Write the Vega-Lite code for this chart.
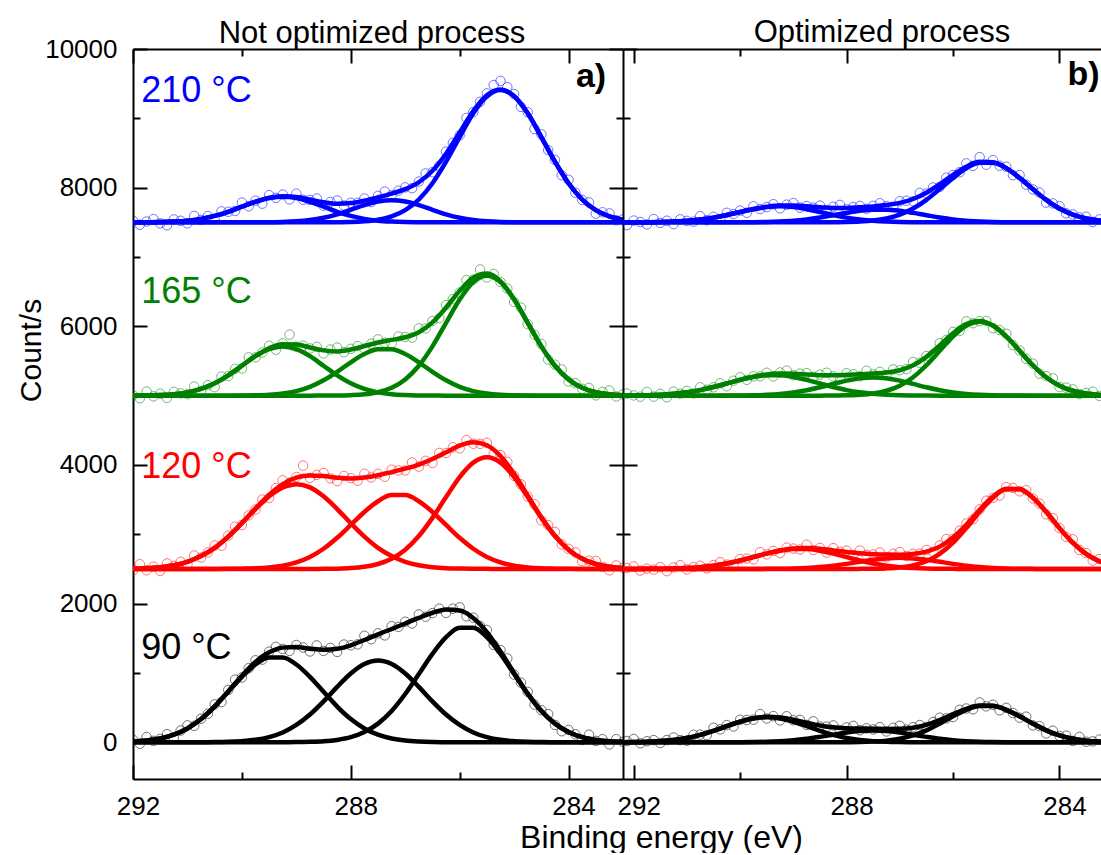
{
"$schema": "https://vega.github.io/schema/vega-lite/v6.json",
"padding": {"left": 16, "top": 17, "right": 0, "bottom": 0},
"autosize": {"type": "pad"},
"config": {
  "font": "Liberation Sans",
  "view": {"stroke": null},
  "axis": {"grid": false, "domainColor": "#000", "tickColor": "#000", "labelColor": "#000", "titleColor": "#000", "domainWidth": 2, "tickWidth": 2, "labelFontSize": 26, "titleFontWeight": "normal", "labelFlush": false, "labelOverlap": false, "labelFont": "Liberation Sans", "titleFont": "Liberation Sans"}
},
"datasets": {
"lines": [
{"s":"L210","x":292,"a":7500,"b":7500,"c":7500,"e":7500},
{"s":"L210","x":291.75,"a":7501,"b":7500,"c":7500,"e":7501},
{"s":"L210","x":291.5,"a":7504,"b":7500,"c":7500,"e":7504},
{"s":"L210","x":291.25,"a":7511,"b":7500,"c":7500,"e":7511},
{"s":"L210","x":291,"a":7524,"b":7500,"c":7500,"e":7524},
{"s":"L210","x":290.75,"a":7550,"b":7500,"c":7500,"e":7550},
{"s":"L210","x":290.5,"a":7592,"b":7500,"c":7500,"e":7592},
{"s":"L210","x":290.25,"a":7652,"b":7500,"c":7500,"e":7652},
{"s":"L210","x":290,"a":7725,"b":7500,"c":7500,"e":7725},
{"s":"L210","x":289.75,"a":7796,"b":7501,"c":7500,"e":7797},
{"s":"L210","x":289.5,"a":7850,"b":7502,"c":7500,"e":7852},
{"s":"L210","x":289.25,"a":7870,"b":7505,"c":7500,"e":7875},
{"s":"L210","x":289,"a":7850,"b":7514,"c":7500,"e":7864},
{"s":"L210","x":288.75,"a":7796,"b":7532,"c":7500,"e":7828},
{"s":"L210","x":288.5,"a":7725,"b":7565,"c":7500,"e":7790},
{"s":"L210","x":288.25,"a":7652,"b":7615,"c":7502,"e":7769},
{"s":"L210","x":288,"a":7592,"b":7680,"c":7505,"e":7777},
{"s":"L210","x":287.75,"a":7550,"b":7748,"c":7515,"e":7813},
{"s":"L210","x":287.5,"a":7524,"b":7800,"c":7537,"e":7861},
{"s":"L210","x":287.25,"a":7511,"b":7820,"c":7584,"e":7915},
{"s":"L210","x":287,"a":7504,"b":7800,"c":7675,"e":7979},
{"s":"L210","x":286.75,"a":7501,"b":7748,"c":7829,"e":8078},
{"s":"L210","x":286.5,"a":7500,"b":7680,"c":8063,"e":8243},
{"s":"L210","x":286.25,"a":7500,"b":7615,"c":8375,"e":8490},
{"s":"L210","x":286,"a":7500,"b":7565,"c":8730,"e":8795},
{"s":"L210","x":285.75,"a":7500,"b":7532,"c":9072,"e":9104},
{"s":"L210","x":285.5,"a":7500,"b":7514,"c":9318,"e":9332},
{"s":"L210","x":285.25,"a":7500,"b":7505,"c":9410,"e":9415},
{"s":"L210","x":285,"a":7500,"b":7502,"c":9318,"e":9320},
{"s":"L210","x":284.75,"a":7500,"b":7501,"c":9072,"e":9073},
{"s":"L210","x":284.5,"a":7500,"b":7500,"c":8730,"e":8730},
{"s":"L210","x":284.25,"a":7500,"b":7500,"c":8375,"e":8375},
{"s":"L210","x":284,"a":7500,"b":7500,"c":8063,"e":8063},
{"s":"L210","x":283.75,"a":7500,"b":7500,"c":7829,"e":7829},
{"s":"L210","x":283.5,"a":7500,"b":7500,"c":7675,"e":7675},
{"s":"L210","x":283.25,"a":7500,"b":7500,"c":7584,"e":7584},
{"s":"L210","x":283,"a":7500,"b":7500,"c":7537,"e":7537},
{"s":"L165","x":292,"a":5001,"b":5000,"c":5000,"e":5001},
{"s":"L165","x":291.75,"a":5003,"b":5000,"c":5000,"e":5003},
{"s":"L165","x":291.5,"a":5008,"b":5000,"c":5000,"e":5008},
{"s":"L165","x":291.25,"a":5020,"b":5000,"c":5000,"e":5020},
{"s":"L165","x":291,"a":5047,"b":5000,"c":5000,"e":5047},
{"s":"L165","x":290.75,"a":5096,"b":5000,"c":5000,"e":5096},
{"s":"L165","x":290.5,"a":5177,"b":5000,"c":5000,"e":5177},
{"s":"L165","x":290.25,"a":5292,"b":5000,"c":5000,"e":5292},
{"s":"L165","x":290,"a":5431,"b":5001,"c":5000,"e":5432},
{"s":"L165","x":289.75,"a":5569,"b":5004,"c":5000,"e":5573},
{"s":"L165","x":289.5,"a":5672,"b":5012,"c":5000,"e":5684},
{"s":"L165","x":289.25,"a":5710,"b":5030,"c":5000,"e":5740},
{"s":"L165","x":289,"a":5672,"b":5065,"c":5000,"e":5737},
{"s":"L165","x":288.75,"a":5569,"b":5126,"c":5000,"e":5695},
{"s":"L165","x":288.5,"a":5431,"b":5221,"c":5001,"e":5653},
{"s":"L165","x":288.25,"a":5292,"b":5344,"c":5002,"e":5638},
{"s":"L165","x":288,"a":5177,"b":5481,"c":5007,"e":5665},
{"s":"L165","x":287.75,"a":5096,"b":5600,"c":5019,"e":5715},
{"s":"L165","x":287.5,"a":5047,"b":5670,"c":5049,"e":5766},
{"s":"L165","x":287.25,"a":5020,"b":5670,"c":5114,"e":5804},
{"s":"L165","x":287,"a":5008,"b":5600,"c":5234,"e":5842},
{"s":"L165","x":286.75,"a":5003,"b":5481,"c":5431,"e":5915},
{"s":"L165","x":286.5,"a":5001,"b":5344,"c":5711,"e":6056},
{"s":"L165","x":286.25,"a":5000,"b":5221,"c":6050,"e":6271},
{"s":"L165","x":286,"a":5000,"b":5126,"c":6386,"e":6512},
{"s":"L165","x":285.75,"a":5000,"b":5065,"c":6637,"e":6702},
{"s":"L165","x":285.5,"a":5000,"b":5030,"c":6730,"e":6760},
{"s":"L165","x":285.25,"a":5000,"b":5012,"c":6637,"e":6649},
{"s":"L165","x":285,"a":5000,"b":5004,"c":6386,"e":6390},
{"s":"L165","x":284.75,"a":5000,"b":5001,"c":6050,"e":6051},
{"s":"L165","x":284.5,"a":5000,"b":5000,"c":5711,"e":5711},
{"s":"L165","x":284.25,"a":5000,"b":5000,"c":5431,"e":5431},
{"s":"L165","x":284,"a":5000,"b":5000,"c":5234,"e":5234},
{"s":"L165","x":283.75,"a":5000,"b":5000,"c":5114,"e":5114},
{"s":"L165","x":283.5,"a":5000,"b":5000,"c":5049,"e":5049},
{"s":"L165","x":283.25,"a":5000,"b":5000,"c":5019,"e":5019},
{"s":"L165","x":283,"a":5000,"b":5000,"c":5007,"e":5007},
{"s":"L120","x":292,"a":2505,"b":2500,"c":2500,"e":2505},
{"s":"L120","x":291.75,"a":2511,"b":2500,"c":2500,"e":2511},
{"s":"L120","x":291.5,"a":2526,"b":2500,"c":2500,"e":2526},
{"s":"L120","x":291.25,"a":2554,"b":2500,"c":2500,"e":2554},
{"s":"L120","x":291,"a":2603,"b":2500,"c":2500,"e":2603},
{"s":"L120","x":290.75,"a":2685,"b":2500,"c":2500,"e":2685},
{"s":"L120","x":290.5,"a":2804,"b":2500,"c":2500,"e":2804},
{"s":"L120","x":290.25,"a":2966,"b":2501,"c":2500,"e":2967},
{"s":"L120","x":290,"a":3159,"b":2504,"c":2500,"e":3163},
{"s":"L120","x":289.75,"a":3364,"b":2509,"c":2500,"e":3373},
{"s":"L120","x":289.5,"a":3547,"b":2522,"c":2500,"e":3569},
{"s":"L120","x":289.25,"a":3676,"b":2547,"c":2500,"e":3723},
{"s":"L120","x":289,"a":3722,"b":2595,"c":2500,"e":3817},
{"s":"L120","x":288.75,"a":3676,"b":2673,"c":2500,"e":3849},
{"s":"L120","x":288.5,"a":3547,"b":2791,"c":2501,"e":3839},
{"s":"L120","x":288.25,"a":3364,"b":2949,"c":2504,"e":3817},
{"s":"L120","x":288,"a":3159,"b":3134,"c":2512,"e":3805},
{"s":"L120","x":287.75,"a":2966,"b":3322,"c":2531,"e":3819},
{"s":"L120","x":287.5,"a":2804,"b":3477,"c":2571,"e":3852},
{"s":"L120","x":287.25,"a":2685,"b":3565,"c":2647,"e":3897},
{"s":"L120","x":287,"a":2603,"b":3565,"c":2778,"e":3946},
{"s":"L120","x":286.75,"a":2554,"b":3477,"c":2975,"e":4006},
{"s":"L120","x":286.5,"a":2526,"b":3322,"c":3237,"e":4085},
{"s":"L120","x":286.25,"a":2511,"b":3134,"c":3537,"e":4182},
{"s":"L120","x":286,"a":2505,"b":2949,"c":3825,"e":4279},
{"s":"L120","x":285.75,"a":2502,"b":2791,"c":4033,"e":4326},
{"s":"L120","x":285.5,"a":2501,"b":2673,"c":4110,"e":4284},
{"s":"L120","x":285.25,"a":2500,"b":2595,"c":4033,"e":4128},
{"s":"L120","x":285,"a":2500,"b":2547,"c":3825,"e":3872},
{"s":"L120","x":284.75,"a":2500,"b":2522,"c":3537,"e":3559},
{"s":"L120","x":284.5,"a":2500,"b":2509,"c":3237,"e":3246},
{"s":"L120","x":284.25,"a":2500,"b":2504,"c":2975,"e":2979},
{"s":"L120","x":284,"a":2500,"b":2501,"c":2778,"e":2779},
{"s":"L120","x":283.75,"a":2500,"b":2500,"c":2647,"e":2647},
{"s":"L120","x":283.5,"a":2500,"b":2500,"c":2571,"e":2571},
{"s":"L120","x":283.25,"a":2500,"b":2500,"c":2531,"e":2531},
{"s":"L120","x":283,"a":2500,"b":2500,"c":2512,"e":2512},
{"s":"L90","x":292,"a":11,"b":0,"c":0,"e":11},
{"s":"L90","x":291.75,"a":25,"b":0,"c":0,"e":25},
{"s":"L90","x":291.5,"a":54,"b":0,"c":0,"e":54},
{"s":"L90","x":291.25,"a":109,"b":0,"c":0,"e":109},
{"s":"L90","x":291,"a":199,"b":0,"c":0,"e":199},
{"s":"L90","x":290.75,"a":334,"b":1,"c":0,"e":335},
{"s":"L90","x":290.5,"a":515,"b":2,"c":0,"e":517},
{"s":"L90","x":290.25,"a":729,"b":6,"c":0,"e":735},
{"s":"L90","x":290,"a":944,"b":16,"c":0,"e":960},
{"s":"L90","x":289.75,"a":1122,"b":35,"c":0,"e":1157},
{"s":"L90","x":289.5,"a":1223,"b":74,"c":0,"e":1297},
{"s":"L90","x":289.25,"a":1223,"b":141,"c":1,"e":1365},
{"s":"L90","x":289,"a":1122,"b":249,"c":2,"e":1373},
{"s":"L90","x":288.75,"a":944,"b":400,"c":6,"e":1350},
{"s":"L90","x":288.5,"a":729,"b":590,"c":14,"e":1333},
{"s":"L90","x":288.25,"a":515,"b":799,"c":34,"e":1348},
{"s":"L90","x":288,"a":334,"b":992,"c":73,"e":1399},
{"s":"L90","x":287.75,"a":199,"b":1129,"c":147,"e":1475},
{"s":"L90","x":287.5,"a":109,"b":1179,"c":269,"e":1557},
{"s":"L90","x":287.25,"a":54,"b":1129,"c":451,"e":1634},
{"s":"L90","x":287,"a":25,"b":992,"c":696,"e":1713},
{"s":"L90","x":286.75,"a":11,"b":799,"c":984,"e":1794},
{"s":"L90","x":286.5,"a":4,"b":590,"c":1274,"e":1868},
{"s":"L90","x":286.25,"a":1,"b":400,"c":1515,"e":1916},
{"s":"L90","x":286,"a":0,"b":249,"c":1652,"e":1901},
{"s":"L90","x":285.75,"a":0,"b":141,"c":1652,"e":1793},
{"s":"L90","x":285.5,"a":0,"b":74,"c":1515,"e":1589},
{"s":"L90","x":285.25,"a":0,"b":35,"c":1274,"e":1309},
{"s":"L90","x":285,"a":0,"b":16,"c":984,"e":1000},
{"s":"L90","x":284.75,"a":0,"b":6,"c":696,"e":702},
{"s":"L90","x":284.5,"a":0,"b":2,"c":451,"e":453},
{"s":"L90","x":284.25,"a":0,"b":1,"c":269,"e":270},
{"s":"L90","x":284,"a":0,"b":0,"c":147,"e":147},
{"s":"L90","x":283.75,"a":0,"b":0,"c":73,"e":73},
{"s":"L90","x":283.5,"a":0,"b":0,"c":34,"e":34},
{"s":"L90","x":283.25,"a":0,"b":0,"c":14,"e":14},
{"s":"L90","x":283,"a":0,"b":0,"c":6,"e":6},
{"s":"R210","x":292.25,"a":7500,"b":7500,"c":7500,"e":7500},
{"s":"R210","x":292,"a":7501,"b":7500,"c":7500,"e":7501},
{"s":"R210","x":291.75,"a":7502,"b":7500,"c":7500,"e":7502},
{"s":"R210","x":291.5,"a":7504,"b":7500,"c":7500,"e":7504},
{"s":"R210","x":291.25,"a":7510,"b":7500,"c":7500,"e":7510},
{"s":"R210","x":291,"a":7521,"b":7500,"c":7500,"e":7521},
{"s":"R210","x":290.75,"a":7540,"b":7500,"c":7500,"e":7540},
{"s":"R210","x":290.5,"a":7568,"b":7500,"c":7500,"e":7568},
{"s":"R210","x":290.25,"a":7605,"b":7500,"c":7500,"e":7605},
{"s":"R210","x":290,"a":7648,"b":7501,"c":7500,"e":7649},
{"s":"R210","x":289.75,"a":7689,"b":7502,"c":7500,"e":7691},
{"s":"R210","x":289.5,"a":7719,"b":7505,"c":7500,"e":7724},
{"s":"R210","x":289.25,"a":7730,"b":7512,"c":7500,"e":7742},
{"s":"R210","x":289,"a":7719,"b":7523,"c":7500,"e":7742},
{"s":"R210","x":288.75,"a":7689,"b":7542,"c":7500,"e":7731},
{"s":"R210","x":288.5,"a":7648,"b":7569,"c":7500,"e":7717},
{"s":"R210","x":288.25,"a":7605,"b":7602,"c":7501,"e":7708},
{"s":"R210","x":288,"a":7568,"b":7636,"c":7504,"e":7708},
{"s":"R210","x":287.75,"a":7540,"b":7666,"c":7511,"e":7717},
{"s":"R210","x":287.5,"a":7521,"b":7683,"c":7526,"e":7730},
{"s":"R210","x":287.25,"a":7510,"b":7683,"c":7556,"e":7749},
{"s":"R210","x":287,"a":7504,"b":7666,"c":7610,"e":7780},
{"s":"R210","x":286.75,"a":7502,"b":7636,"c":7698,"e":7836},
{"s":"R210","x":286.5,"a":7501,"b":7602,"c":7824,"e":7927},
{"s":"R210","x":286.25,"a":7500,"b":7569,"c":7979,"e":8048},
{"s":"R210","x":286,"a":7500,"b":7542,"c":8141,"e":8183},
{"s":"R210","x":285.75,"a":7500,"b":7523,"c":8280,"e":8303},
{"s":"R210","x":285.5,"a":7500,"b":7512,"c":8360,"e":8372},
{"s":"R210","x":285.25,"a":7500,"b":7505,"c":8360,"e":8365},
{"s":"R210","x":285,"a":7500,"b":7502,"c":8280,"e":8282},
{"s":"R210","x":284.75,"a":7500,"b":7501,"c":8141,"e":8142},
{"s":"R210","x":284.5,"a":7500,"b":7500,"c":7979,"e":7979},
{"s":"R210","x":284.25,"a":7500,"b":7500,"c":7824,"e":7824},
{"s":"R210","x":284,"a":7500,"b":7500,"c":7698,"e":7698},
{"s":"R210","x":283.75,"a":7500,"b":7500,"c":7610,"e":7610},
{"s":"R210","x":283.5,"a":7500,"b":7500,"c":7556,"e":7556},
{"s":"R210","x":283.25,"a":7500,"b":7500,"c":7526,"e":7526},
{"s":"R210","x":283,"a":7500,"b":7500,"c":7511,"e":7511},
{"s":"R165","x":292.25,"a":5001,"b":5000,"c":5000,"e":5001},
{"s":"R165","x":292,"a":5003,"b":5000,"c":5000,"e":5003},
{"s":"R165","x":291.75,"a":5006,"b":5000,"c":5000,"e":5006},
{"s":"R165","x":291.5,"a":5013,"b":5000,"c":5000,"e":5013},
{"s":"R165","x":291.25,"a":5026,"b":5000,"c":5000,"e":5026},
{"s":"R165","x":291,"a":5048,"b":5000,"c":5000,"e":5048},
{"s":"R165","x":290.75,"a":5080,"b":5000,"c":5000,"e":5080},
{"s":"R165","x":290.5,"a":5124,"b":5000,"c":5000,"e":5124},
{"s":"R165","x":290.25,"a":5175,"b":5001,"c":5000,"e":5176},
{"s":"R165","x":290,"a":5227,"b":5002,"c":5000,"e":5229},
{"s":"R165","x":289.75,"a":5269,"b":5005,"c":5000,"e":5274},
{"s":"R165","x":289.5,"a":5294,"b":5012,"c":5000,"e":5306},
{"s":"R165","x":289.25,"a":5294,"b":5024,"c":5000,"e":5318},
{"s":"R165","x":289,"a":5269,"b":5045,"c":5000,"e":5314},
{"s":"R165","x":288.75,"a":5227,"b":5078,"c":5000,"e":5305},
{"s":"R165","x":288.5,"a":5175,"b":5120,"c":5000,"e":5295},
{"s":"R165","x":288.25,"a":5124,"b":5169,"c":5001,"e":5294},
{"s":"R165","x":288,"a":5080,"b":5216,"c":5004,"e":5300},
{"s":"R165","x":287.75,"a":5048,"b":5250,"c":5012,"e":5310},
{"s":"R165","x":287.5,"a":5026,"b":5263,"c":5030,"e":5319},
{"s":"R165","x":287.25,"a":5013,"b":5250,"c":5070,"e":5333},
{"s":"R165","x":287,"a":5006,"b":5216,"c":5144,"e":5366},
{"s":"R165","x":286.75,"a":5003,"b":5169,"c":5265,"e":5437},
{"s":"R165","x":286.5,"a":5001,"b":5120,"c":5438,"e":5559},
{"s":"R165","x":286.25,"a":5000,"b":5078,"c":5647,"e":5725},
{"s":"R165","x":286,"a":5000,"b":5045,"c":5854,"e":5899},
{"s":"R165","x":285.75,"a":5000,"b":5024,"c":6008,"e":6032},
{"s":"R165","x":285.5,"a":5000,"b":5012,"c":6066,"e":6078},
{"s":"R165","x":285.25,"a":5000,"b":5005,"c":6008,"e":6013},
{"s":"R165","x":285,"a":5000,"b":5002,"c":5854,"e":5856},
{"s":"R165","x":284.75,"a":5000,"b":5001,"c":5647,"e":5648},
{"s":"R165","x":284.5,"a":5000,"b":5000,"c":5438,"e":5438},
{"s":"R165","x":284.25,"a":5000,"b":5000,"c":5265,"e":5265},
{"s":"R165","x":284,"a":5000,"b":5000,"c":5144,"e":5144},
{"s":"R165","x":283.75,"a":5000,"b":5000,"c":5070,"e":5070},
{"s":"R165","x":283.5,"a":5000,"b":5000,"c":5030,"e":5030},
{"s":"R165","x":283.25,"a":5000,"b":5000,"c":5012,"e":5012},
{"s":"R165","x":283,"a":5000,"b":5000,"c":5004,"e":5004},
{"s":"R120","x":292.25,"a":2500,"b":2500,"c":2500,"e":2500},
{"s":"R120","x":292,"a":2500,"b":2500,"c":2500,"e":2500},
{"s":"R120","x":291.75,"a":2501,"b":2500,"c":2500,"e":2501},
{"s":"R120","x":291.5,"a":2502,"b":2500,"c":2500,"e":2502},
{"s":"R120","x":291.25,"a":2506,"b":2500,"c":2500,"e":2506},
{"s":"R120","x":291,"a":2513,"b":2500,"c":2500,"e":2513},
{"s":"R120","x":290.75,"a":2525,"b":2500,"c":2500,"e":2525},
{"s":"R120","x":290.5,"a":2547,"b":2500,"c":2500,"e":2547},
{"s":"R120","x":290.25,"a":2578,"b":2500,"c":2500,"e":2578},
{"s":"R120","x":290,"a":2621,"b":2500,"c":2500,"e":2621},
{"s":"R120","x":289.75,"a":2671,"b":2500,"c":2500,"e":2671},
{"s":"R120","x":289.5,"a":2721,"b":2501,"c":2500,"e":2722},
{"s":"R120","x":289.25,"a":2763,"b":2503,"c":2500,"e":2766},
{"s":"R120","x":289,"a":2787,"b":2507,"c":2500,"e":2794},
{"s":"R120","x":288.75,"a":2787,"b":2515,"c":2500,"e":2802},
{"s":"R120","x":288.5,"a":2763,"b":2528,"c":2500,"e":2791},
{"s":"R120","x":288.25,"a":2721,"b":2547,"c":2500,"e":2768},
{"s":"R120","x":288,"a":2671,"b":2573,"c":2500,"e":2744},
{"s":"R120","x":287.75,"a":2621,"b":2603,"c":2501,"e":2725},
{"s":"R120","x":287.5,"a":2578,"b":2632,"c":2503,"e":2713},
{"s":"R120","x":287.25,"a":2547,"b":2652,"c":2508,"e":2707},
{"s":"R120","x":287,"a":2525,"b":2660,"c":2521,"e":2706},
{"s":"R120","x":286.75,"a":2513,"b":2652,"c":2551,"e":2716},
{"s":"R120","x":286.5,"a":2506,"b":2632,"c":2611,"e":2749},
{"s":"R120","x":286.25,"a":2502,"b":2603,"c":2717,"e":2822},
{"s":"R120","x":286,"a":2501,"b":2573,"c":2879,"e":2953},
{"s":"R120","x":285.75,"a":2500,"b":2547,"c":3089,"e":3136},
{"s":"R120","x":285.5,"a":2500,"b":2528,"c":3324,"e":3352},
{"s":"R120","x":285.25,"a":2500,"b":2515,"c":3528,"e":3543},
{"s":"R120","x":285,"a":2500,"b":2507,"c":3649,"e":3656},
{"s":"R120","x":284.75,"a":2500,"b":2503,"c":3649,"e":3652},
{"s":"R120","x":284.5,"a":2500,"b":2501,"c":3528,"e":3529},
{"s":"R120","x":284.25,"a":2500,"b":2500,"c":3324,"e":3324},
{"s":"R120","x":284,"a":2500,"b":2500,"c":3089,"e":3089},
{"s":"R120","x":283.75,"a":2500,"b":2500,"c":2879,"e":2879},
{"s":"R120","x":283.5,"a":2500,"b":2500,"c":2717,"e":2717},
{"s":"R120","x":283.25,"a":2500,"b":2500,"c":2611,"e":2611},
{"s":"R120","x":283,"a":2500,"b":2500,"c":2551,"e":2551},
{"s":"R90","x":292.25,"a":1,"b":0,"c":0,"e":1},
{"s":"R90","x":292,"a":3,"b":0,"c":0,"e":3},
{"s":"R90","x":291.75,"a":7,"b":0,"c":0,"e":7},
{"s":"R90","x":291.5,"a":16,"b":0,"c":0,"e":16},
{"s":"R90","x":291.25,"a":33,"b":0,"c":0,"e":33},
{"s":"R90","x":291,"a":62,"b":0,"c":0,"e":62},
{"s":"R90","x":290.75,"a":106,"b":0,"c":0,"e":106},
{"s":"R90","x":290.5,"a":165,"b":0,"c":0,"e":165},
{"s":"R90","x":290.25,"a":232,"b":0,"c":0,"e":232},
{"s":"R90","x":290,"a":296,"b":1,"c":0,"e":297},
{"s":"R90","x":289.75,"a":343,"b":3,"c":0,"e":346},
{"s":"R90","x":289.5,"a":360,"b":7,"c":0,"e":367},
{"s":"R90","x":289.25,"a":343,"b":16,"c":0,"e":359},
{"s":"R90","x":289,"a":296,"b":29,"c":0,"e":325},
{"s":"R90","x":288.75,"a":232,"b":50,"c":0,"e":282},
{"s":"R90","x":288.5,"a":165,"b":78,"c":0,"e":243},
{"s":"R90","x":288.25,"a":106,"b":109,"c":0,"e":215},
{"s":"R90","x":288,"a":62,"b":140,"c":1,"e":203},
{"s":"R90","x":287.75,"a":33,"b":162,"c":3,"e":198},
{"s":"R90","x":287.5,"a":16,"b":170,"c":10,"e":196},
{"s":"R90","x":287.25,"a":7,"b":162,"c":23,"e":192},
{"s":"R90","x":287,"a":3,"b":140,"c":51,"e":194},
{"s":"R90","x":286.75,"a":1,"b":109,"c":99,"e":209},
{"s":"R90","x":286.5,"a":0,"b":78,"c":172,"e":250},
{"s":"R90","x":286.25,"a":0,"b":50,"c":268,"e":318},
{"s":"R90","x":286,"a":0,"b":29,"c":375,"e":404},
{"s":"R90","x":285.75,"a":0,"b":16,"c":467,"e":483},
{"s":"R90","x":285.5,"a":0,"b":7,"c":523,"e":530},
{"s":"R90","x":285.25,"a":0,"b":3,"c":523,"e":526},
{"s":"R90","x":285,"a":0,"b":1,"c":467,"e":468},
{"s":"R90","x":284.75,"a":0,"b":0,"c":375,"e":375},
{"s":"R90","x":284.5,"a":0,"b":0,"c":268,"e":268},
{"s":"R90","x":284.25,"a":0,"b":0,"c":172,"e":172},
{"s":"R90","x":284,"a":0,"b":0,"c":99,"e":99},
{"s":"R90","x":283.75,"a":0,"b":0,"c":51,"e":51},
{"s":"R90","x":283.5,"a":0,"b":0,"c":23,"e":23},
{"s":"R90","x":283.25,"a":0,"b":0,"c":10,"e":10},
{"s":"R90","x":283,"a":0,"b":0,"c":3,"e":3}
],
"pts": [
{"s":"L210","x":292,"y":7525},{"s":"L210","x":291.875,"y":7465},{"s":"L210","x":291.75,"y":7511},{"s":"L210","x":291.625,"y":7547},{"s":"L210","x":291.5,"y":7484},{"s":"L210","x":291.375,"y":7457},{"s":"L210","x":291.25,"y":7541},{"s":"L210","x":291.125,"y":7522},{"s":"L210","x":291,"y":7484},{"s":"L210","x":290.875,"y":7592},{"s":"L210","x":290.75,"y":7535},{"s":"L210","x":290.625,"y":7591},{"s":"L210","x":290.5,"y":7547},{"s":"L210","x":290.375,"y":7657},{"s":"L210","x":290.25,"y":7652},{"s":"L210","x":290.125,"y":7663},{"s":"L210","x":290,"y":7785},{"s":"L210","x":289.875,"y":7731},{"s":"L210","x":289.75,"y":7812},{"s":"L210","x":289.625,"y":7769},{"s":"L210","x":289.5,"y":7892},{"s":"L210","x":289.375,"y":7853},{"s":"L210","x":289.25,"y":7900},{"s":"L210","x":289.125,"y":7830},{"s":"L210","x":289,"y":7914},{"s":"L210","x":288.875,"y":7826},{"s":"L210","x":288.75,"y":7823},{"s":"L210","x":288.625,"y":7844},{"s":"L210","x":288.5,"y":7740},{"s":"L210","x":288.375,"y":7794},{"s":"L210","x":288.25,"y":7814},{"s":"L210","x":288.125,"y":7743},{"s":"L210","x":288,"y":7782},{"s":"L210","x":287.875,"y":7780},{"s":"L210","x":287.75,"y":7843},{"s":"L210","x":287.625,"y":7792},{"s":"L210","x":287.5,"y":7881},{"s":"L210","x":287.375,"y":7943},{"s":"L210","x":287.25,"y":7890},{"s":"L210","x":287.125,"y":7957},{"s":"L210","x":287,"y":8004},{"s":"L210","x":286.875,"y":7993},{"s":"L210","x":286.75,"y":8088},{"s":"L210","x":286.625,"y":8205},{"s":"L210","x":286.5,"y":8223},{"s":"L210","x":286.375,"y":8316},{"s":"L210","x":286.25,"y":8520},{"s":"L210","x":286.125,"y":8647},{"s":"L210","x":286,"y":8755},{"s":"L210","x":285.875,"y":9005},{"s":"L210","x":285.75,"y":9089},{"s":"L210","x":285.625,"y":9238},{"s":"L210","x":285.5,"y":9360},{"s":"L210","x":285.375,"y":9480},{"s":"L210","x":285.25,"y":9540},{"s":"L210","x":285.125,"y":9450},{"s":"L210","x":285,"y":9350},{"s":"L210","x":284.875,"y":9166},{"s":"L210","x":284.75,"y":9088},{"s":"L210","x":284.625,"y":8846},{"s":"L210","x":284.5,"y":8770},{"s":"L210","x":284.375,"y":8542},{"s":"L210","x":284.25,"y":8400},{"s":"L210","x":284.125,"y":8179},{"s":"L210","x":284,"y":8113},{"s":"L210","x":283.875,"y":7926},{"s":"L210","x":283.75,"y":7824},{"s":"L210","x":283.625,"y":7787},{"s":"L210","x":283.5,"y":7625},{"s":"L210","x":283.375,"y":7644},{"s":"L210","x":283.25,"y":7629},{"s":"L210","x":283.125,"y":7530},{"s":"L210","x":283,"y":7542},
{"s":"L165","x":292,"y":5006},{"s":"L165","x":291.875,"y":4962},{"s":"L165","x":291.75,"y":5058},{"s":"L165","x":291.625,"y":4990},{"s":"L165","x":291.5,"y":5028},{"s":"L165","x":291.375,"y":4969},{"s":"L165","x":291.25,"y":5055},{"s":"L165","x":291.125,"y":5033},{"s":"L165","x":291,"y":5022},{"s":"L165","x":290.875,"y":5131},{"s":"L165","x":290.75,"y":5066},{"s":"L165","x":290.625,"y":5151},{"s":"L165","x":290.5,"y":5122},{"s":"L165","x":290.375,"y":5274},{"s":"L165","x":290.25,"y":5282},{"s":"L165","x":290.125,"y":5387},{"s":"L165","x":290,"y":5392},{"s":"L165","x":289.875,"y":5552},{"s":"L165","x":289.75,"y":5553},{"s":"L165","x":289.625,"y":5623},{"s":"L165","x":289.5,"y":5719},{"s":"L165","x":289.375,"y":5662},{"s":"L165","x":289.25,"y":5755},{"s":"L165","x":289.125,"y":5880},{"s":"L165","x":289,"y":5707},{"s":"L165","x":288.875,"y":5721},{"s":"L165","x":288.75,"y":5680},{"s":"L165","x":288.625,"y":5704},{"s":"L165","x":288.5,"y":5608},{"s":"L165","x":288.375,"y":5665},{"s":"L165","x":288.25,"y":5693},{"s":"L165","x":288.125,"y":5626},{"s":"L165","x":288,"y":5675},{"s":"L165","x":287.875,"y":5715},{"s":"L165","x":287.75,"y":5680},{"s":"L165","x":287.625,"y":5750},{"s":"L165","x":287.5,"y":5811},{"s":"L165","x":287.375,"y":5765},{"s":"L165","x":287.25,"y":5754},{"s":"L165","x":287.125,"y":5853},{"s":"L165","x":287,"y":5847},{"s":"L165","x":286.875,"y":5838},{"s":"L165","x":286.75,"y":5970},{"s":"L165","x":286.625,"y":5970},{"s":"L165","x":286.5,"y":6076},{"s":"L165","x":286.375,"y":6118},{"s":"L165","x":286.25,"y":6306},{"s":"L165","x":286.125,"y":6391},{"s":"L165","x":286,"y":6487},{"s":"L165","x":285.875,"y":6667},{"s":"L165","x":285.75,"y":6672},{"s":"L165","x":285.625,"y":6820},{"s":"L165","x":285.5,"y":6705},{"s":"L165","x":285.375,"y":6755},{"s":"L165","x":285.25,"y":6639},{"s":"L165","x":285.125,"y":6545},{"s":"L165","x":285,"y":6350},{"s":"L165","x":284.875,"y":6270},{"s":"L165","x":284.75,"y":6031},{"s":"L165","x":284.625,"y":5876},{"s":"L165","x":284.5,"y":5746},{"s":"L165","x":284.375,"y":5521},{"s":"L165","x":284.25,"y":5446},{"s":"L165","x":284.125,"y":5377},{"s":"L165","x":284,"y":5204},{"s":"L165","x":283.875,"y":5179},{"s":"L165","x":283.75,"y":5099},{"s":"L165","x":283.625,"y":5111},{"s":"L165","x":283.5,"y":5004},{"s":"L165","x":283.375,"y":5054},{"s":"L165","x":283.25,"y":5074},{"s":"L165","x":283.125,"y":4988},{"s":"L165","x":283,"y":5017},
{"s":"L120","x":292,"y":2480},{"s":"L120","x":291.875,"y":2568},{"s":"L120","x":291.75,"y":2481},{"s":"L120","x":291.625,"y":2533},{"s":"L120","x":291.5,"y":2471},{"s":"L120","x":291.375,"y":2580},{"s":"L120","x":291.25,"y":2544},{"s":"L120","x":291.125,"y":2603},{"s":"L120","x":291,"y":2563},{"s":"L120","x":290.875,"y":2694},{"s":"L120","x":290.75,"y":2665},{"s":"L120","x":290.625,"y":2739},{"s":"L120","x":290.5,"y":2839},{"s":"L120","x":290.375,"y":2835},{"s":"L120","x":290.25,"y":2982},{"s":"L120","x":290.125,"y":3110},{"s":"L120","x":290,"y":3133},{"s":"L120","x":289.875,"y":3273},{"s":"L120","x":289.75,"y":3358},{"s":"L120","x":289.625,"y":3501},{"s":"L120","x":289.5,"y":3524},{"s":"L120","x":289.375,"y":3666},{"s":"L120","x":289.25,"y":3778},{"s":"L120","x":289.125,"y":3745},{"s":"L120","x":289,"y":3827},{"s":"L120","x":288.875,"y":3990},{"s":"L120","x":288.75,"y":3814},{"s":"L120","x":288.625,"y":3856},{"s":"L120","x":288.5,"y":3884},{"s":"L120","x":288.375,"y":3808},{"s":"L120","x":288.25,"y":3767},{"s":"L120","x":288.125,"y":3841},{"s":"L120","x":288,"y":3810},{"s":"L120","x":287.875,"y":3772},{"s":"L120","x":287.75,"y":3874},{"s":"L120","x":287.625,"y":3820},{"s":"L120","x":287.5,"y":3872},{"s":"L120","x":287.375,"y":3829},{"s":"L120","x":287.25,"y":3932},{"s":"L120","x":287.125,"y":3921},{"s":"L120","x":287,"y":3921},{"s":"L120","x":286.875,"y":4036},{"s":"L120","x":286.75,"y":3976},{"s":"L120","x":286.625,"y":4060},{"s":"L120","x":286.5,"y":4030},{"s":"L120","x":286.375,"y":4173},{"s":"L120","x":286.25,"y":4172},{"s":"L120","x":286.125,"y":4255},{"s":"L120","x":286,"y":4239},{"s":"L120","x":285.875,"y":4358},{"s":"L120","x":285.75,"y":4306},{"s":"L120","x":285.625,"y":4305},{"s":"L120","x":285.5,"y":4319},{"s":"L120","x":285.375,"y":4160},{"s":"L120","x":285.25,"y":4143},{"s":"L120","x":285.125,"y":4045},{"s":"L120","x":285,"y":3842},{"s":"L120","x":284.875,"y":3720},{"s":"L120","x":284.75,"y":3544},{"s":"L120","x":284.625,"y":3432},{"s":"L120","x":284.5,"y":3201},{"s":"L120","x":284.375,"y":3132},{"s":"L120","x":284.25,"y":3034},{"s":"L120","x":284.125,"y":2854},{"s":"L120","x":284,"y":2789},{"s":"L120","x":283.875,"y":2738},{"s":"L120","x":283.75,"y":2612},{"s":"L120","x":283.625,"y":2619},{"s":"L120","x":283.5,"y":2616},{"s":"L120","x":283.375,"y":2531},{"s":"L120","x":283.25,"y":2481},{"s":"L120","x":283.125,"y":2551},{"s":"L120","x":283,"y":2517},
{"s":"L90","x":292,"y":36},{"s":"L90","x":291.875,"y":-22},{"s":"L90","x":291.75,"y":75},{"s":"L90","x":291.625,"y":20},{"s":"L90","x":291.5,"y":49},{"s":"L90","x":291.375,"y":117},{"s":"L90","x":291.25,"y":59},{"s":"L90","x":291.125,"y":169},{"s":"L90","x":291,"y":244},{"s":"L90","x":290.875,"y":237},{"s":"L90","x":290.75,"y":340},{"s":"L90","x":290.625,"y":411},{"s":"L90","x":290.5,"y":547},{"s":"L90","x":290.375,"y":581},{"s":"L90","x":290.25,"y":755},{"s":"L90","x":290.125,"y":903},{"s":"L90","x":290,"y":935},{"s":"L90","x":289.875,"y":1069},{"s":"L90","x":289.75,"y":1182},{"s":"L90","x":289.625,"y":1192},{"s":"L90","x":289.5,"y":1307},{"s":"L90","x":289.375,"y":1376},{"s":"L90","x":289.25,"y":1345},{"s":"L90","x":289.125,"y":1319},{"s":"L90","x":289,"y":1403},{"s":"L90","x":288.875,"y":1367},{"s":"L90","x":288.75,"y":1310},{"s":"L90","x":288.625,"y":1397},{"s":"L90","x":288.5,"y":1318},{"s":"L90","x":288.375,"y":1361},{"s":"L90","x":288.25,"y":1303},{"s":"L90","x":288.125,"y":1409},{"s":"L90","x":288,"y":1399},{"s":"L90","x":287.875,"y":1412},{"s":"L90","x":287.75,"y":1535},{"s":"L90","x":287.625,"y":1486},{"s":"L90","x":287.5,"y":1572},{"s":"L90","x":287.375,"y":1541},{"s":"L90","x":287.25,"y":1674},{"s":"L90","x":287.125,"y":1664},{"s":"L90","x":287,"y":1738},{"s":"L90","x":286.875,"y":1714},{"s":"L90","x":286.75,"y":1844},{"s":"L90","x":286.625,"y":1811},{"s":"L90","x":286.5,"y":1863},{"s":"L90","x":286.375,"y":1927},{"s":"L90","x":286.25,"y":1866},{"s":"L90","x":286.125,"y":1927},{"s":"L90","x":286,"y":1946},{"s":"L90","x":285.875,"y":1817},{"s":"L90","x":285.75,"y":1798},{"s":"L90","x":285.625,"y":1676},{"s":"L90","x":285.5,"y":1619},{"s":"L90","x":285.375,"y":1404},{"s":"L90","x":285.25,"y":1329},{"s":"L90","x":285.125,"y":1210},{"s":"L90","x":285,"y":975},{"s":"L90","x":284.875,"y":861},{"s":"L90","x":284.75,"y":727},{"s":"L90","x":284.625,"y":543},{"s":"L90","x":284.5,"y":463},{"s":"L90","x":284.375,"y":407},{"s":"L90","x":284.25,"y":250},{"s":"L90","x":284.125,"y":159},{"s":"L90","x":284,"y":177},{"s":"L90","x":283.875,"y":115},{"s":"L90","x":283.75,"y":33},{"s":"L90","x":283.625,"y":109},{"s":"L90","x":283.5,"y":19},{"s":"L90","x":283.375,"y":44},{"s":"L90","x":283.25,"y":-31},{"s":"L90","x":283.125,"y":45},{"s":"L90","x":283,"y":6},
{"s":"R210","x":292.125,"y":7460},{"s":"R210","x":292,"y":7525},{"s":"R210","x":291.875,"y":7505},{"s":"R210","x":291.75,"y":7470},{"s":"R210","x":291.625,"y":7547},{"s":"R210","x":291.5,"y":7492},{"s":"R210","x":291.375,"y":7523},{"s":"R210","x":291.25,"y":7474},{"s":"R210","x":291.125,"y":7543},{"s":"R210","x":291,"y":7521},{"s":"R210","x":290.875,"y":7510},{"s":"R210","x":290.75,"y":7588},{"s":"R210","x":290.625,"y":7530},{"s":"R210","x":290.5,"y":7580},{"s":"R210","x":290.375,"y":7542},{"s":"R210","x":290.25,"y":7637},{"s":"R210","x":290.125,"y":7619},{"s":"R210","x":290,"y":7669},{"s":"R210","x":289.875,"y":7638},{"s":"R210","x":289.75,"y":7731},{"s":"R210","x":289.625,"y":7692},{"s":"R210","x":289.5,"y":7720},{"s":"R210","x":289.375,"y":7761},{"s":"R210","x":289.25,"y":7702},{"s":"R210","x":289.125,"y":7755},{"s":"R210","x":289,"y":7778},{"s":"R210","x":288.875,"y":7712},{"s":"R210","x":288.75,"y":7735},{"s":"R210","x":288.625,"y":7712},{"s":"R210","x":288.5,"y":7741},{"s":"R210","x":288.375,"y":7676},{"s":"R210","x":288.25,"y":7724},{"s":"R210","x":288.125,"y":7751},{"s":"R210","x":288,"y":7688},{"s":"R210","x":287.875,"y":7720},{"s":"R210","x":287.75,"y":7737},{"s":"R210","x":287.625,"y":7695},{"s":"R210","x":287.5,"y":7738},{"s":"R210","x":287.375,"y":7775},{"s":"R210","x":287.25,"y":7733},{"s":"R210","x":287.125,"y":7724},{"s":"R210","x":287,"y":7804},{"s":"R210","x":286.875,"y":7812},{"s":"R210","x":286.75,"y":7804},{"s":"R210","x":286.625,"y":7925},{"s":"R210","x":286.5,"y":7915},{"s":"R210","x":286.375,"y":8003},{"s":"R210","x":286.25,"y":8012},{"s":"R210","x":286.125,"y":8143},{"s":"R210","x":286,"y":8183},{"s":"R210","x":285.875,"y":8223},{"s":"R210","x":285.75,"y":8351},{"s":"R210","x":285.625,"y":8314},{"s":"R210","x":285.5,"y":8440},{"s":"R210","x":285.375,"y":8331},{"s":"R210","x":285.25,"y":8397},{"s":"R210","x":285.125,"y":8316},{"s":"R210","x":285,"y":8302},{"s":"R210","x":284.875,"y":8180},{"s":"R210","x":284.75,"y":8182},{"s":"R210","x":284.625,"y":8044},{"s":"R210","x":284.5,"y":7975},{"s":"R210","x":284.375,"y":7929},{"s":"R210","x":284.25,"y":7784},{"s":"R210","x":284.125,"y":7773},{"s":"R210","x":284,"y":7734},{"s":"R210","x":283.875,"y":7630},{"s":"R210","x":283.75,"y":7614},{"s":"R210","x":283.625,"y":7571},{"s":"R210","x":283.5,"y":7580},{"s":"R210","x":283.375,"y":7505},{"s":"R210","x":283.25,"y":7542},{"s":"R210","x":283.125,"y":7562},{"s":"R210","x":283,"y":7491},
{"s":"R165","x":292.125,"y":5030},{"s":"R165","x":292,"y":5003},{"s":"R165","x":291.875,"y":4985},{"s":"R165","x":291.75,"y":5054},{"s":"R165","x":291.625,"y":4986},{"s":"R165","x":291.5,"y":5025},{"s":"R165","x":291.375,"y":4976},{"s":"R165","x":291.25,"y":5058},{"s":"R165","x":291.125,"y":5029},{"s":"R165","x":291,"y":5068},{"s":"R165","x":290.875,"y":5032},{"s":"R165","x":290.75,"y":5120},{"s":"R165","x":290.625,"y":5086},{"s":"R165","x":290.5,"y":5120},{"s":"R165","x":290.375,"y":5178},{"s":"R165","x":290.25,"y":5136},{"s":"R165","x":290.125,"y":5215},{"s":"R165","x":290,"y":5265},{"s":"R165","x":289.875,"y":5228},{"s":"R165","x":289.75,"y":5278},{"s":"R165","x":289.625,"y":5278},{"s":"R165","x":289.5,"y":5330},{"s":"R165","x":289.375,"y":5278},{"s":"R165","x":289.25,"y":5334},{"s":"R165","x":289.125,"y":5361},{"s":"R165","x":289,"y":5294},{"s":"R165","x":288.875,"y":5318},{"s":"R165","x":288.75,"y":5325},{"s":"R165","x":288.625,"y":5272},{"s":"R165","x":288.5,"y":5303},{"s":"R165","x":288.375,"y":5330},{"s":"R165","x":288.25,"y":5278},{"s":"R165","x":288.125,"y":5257},{"s":"R165","x":288,"y":5324},{"s":"R165","x":287.875,"y":5309},{"s":"R165","x":287.75,"y":5278},{"s":"R165","x":287.625,"y":5359},{"s":"R165","x":287.5,"y":5307},{"s":"R165","x":287.375,"y":5342},{"s":"R165","x":287.25,"y":5297},{"s":"R165","x":287.125,"y":5378},{"s":"R165","x":287,"y":5366},{"s":"R165","x":286.875,"y":5382},{"s":"R165","x":286.75,"y":5485},{"s":"R165","x":286.625,"y":5474},{"s":"R165","x":286.5,"y":5571},{"s":"R165","x":286.375,"y":5598},{"s":"R165","x":286.25,"y":5757},{"s":"R165","x":286.125,"y":5804},{"s":"R165","x":286,"y":5919},{"s":"R165","x":285.875,"y":5934},{"s":"R165","x":285.75,"y":6072},{"s":"R165","x":285.625,"y":6044},{"s":"R165","x":285.5,"y":6074},{"s":"R165","x":285.375,"y":6078},{"s":"R165","x":285.25,"y":5973},{"s":"R165","x":285.125,"y":5947},{"s":"R165","x":285,"y":5892},{"s":"R165","x":284.875,"y":5728},{"s":"R165","x":284.75,"y":5652},{"s":"R165","x":284.625,"y":5531},{"s":"R165","x":284.5,"y":5462},{"s":"R165","x":284.375,"y":5316},{"s":"R165","x":284.25,"y":5281},{"s":"R165","x":284.125,"y":5249},{"s":"R165","x":284,"y":5124},{"s":"R165","x":283.875,"y":5115},{"s":"R165","x":283.75,"y":5090},{"s":"R165","x":283.625,"y":5022},{"s":"R165","x":283.5,"y":5038},{"s":"R165","x":283.375,"y":5057},{"s":"R165","x":283.25,"y":4996},{"s":"R165","x":283.125,"y":4968},{"s":"R165","x":283,"y":5028},
{"s":"R120","x":292.125,"y":2512},{"s":"R120","x":292,"y":2536},{"s":"R120","x":291.875,"y":2477},{"s":"R120","x":291.75,"y":2505},{"s":"R120","x":291.625,"y":2490},{"s":"R120","x":291.5,"y":2526},{"s":"R120","x":291.375,"y":2468},{"s":"R120","x":291.25,"y":2522},{"s":"R120","x":291.125,"y":2554},{"s":"R120","x":291,"y":2493},{"s":"R120","x":290.875,"y":2527},{"s":"R120","x":290.75,"y":2545},{"s":"R120","x":290.625,"y":2508},{"s":"R120","x":290.5,"y":2555},{"s":"R120","x":290.375,"y":2598},{"s":"R120","x":290.25,"y":2562},{"s":"R120","x":290.125,"y":2560},{"s":"R120","x":290,"y":2645},{"s":"R120","x":289.875,"y":2650},{"s":"R120","x":289.75,"y":2639},{"s":"R120","x":289.625,"y":2741},{"s":"R120","x":289.5,"y":2710},{"s":"R120","x":289.375,"y":2760},{"s":"R120","x":289.25,"y":2730},{"s":"R120","x":289.125,"y":2808},{"s":"R120","x":289,"y":2794},{"s":"R120","x":288.875,"y":2780},{"s":"R120","x":288.75,"y":2850},{"s":"R120","x":288.625,"y":2774},{"s":"R120","x":288.5,"y":2803},{"s":"R120","x":288.375,"y":2736},{"s":"R120","x":288.25,"y":2800},{"s":"R120","x":288.125,"y":2748},{"s":"R120","x":288,"y":2764},{"s":"R120","x":287.875,"y":2703},{"s":"R120","x":287.75,"y":2765},{"s":"R120","x":287.625,"y":2703},{"s":"R120","x":287.5,"y":2709},{"s":"R120","x":287.375,"y":2738},{"s":"R120","x":287.25,"y":2667},{"s":"R120","x":287.125,"y":2718},{"s":"R120","x":287,"y":2742},{"s":"R120","x":286.875,"y":2687},{"s":"R120","x":286.75,"y":2720},{"s":"R120","x":286.625,"y":2720},{"s":"R120","x":286.5,"y":2773},{"s":"R120","x":286.375,"y":2749},{"s":"R120","x":286.25,"y":2838},{"s":"R120","x":286.125,"y":2931},{"s":"R120","x":286,"y":2933},{"s":"R120","x":285.875,"y":3052},{"s":"R120","x":285.75,"y":3156},{"s":"R120","x":285.625,"y":3216},{"s":"R120","x":285.5,"y":3360},{"s":"R120","x":285.375,"y":3484},{"s":"R120","x":285.25,"y":3527},{"s":"R120","x":285.125,"y":3560},{"s":"R120","x":285,"y":3680},{"s":"R120","x":284.875,"y":3669},{"s":"R120","x":284.75,"y":3620},{"s":"R120","x":284.625,"y":3635},{"s":"R120","x":284.5,"y":3517},{"s":"R120","x":284.375,"y":3443},{"s":"R120","x":284.25,"y":3288},{"s":"R120","x":284.125,"y":3234},{"s":"R120","x":284,"y":3089},{"s":"R120","x":283.875,"y":2964},{"s":"R120","x":283.75,"y":2927},{"s":"R120","x":283.625,"y":2774},{"s":"R120","x":283.5,"y":2729},{"s":"R120","x":283.375,"y":2620},{"s":"R120","x":283.25,"y":2643},{"s":"R120","x":283.125,"y":2573},{"s":"R120","x":283,"y":2571},
{"s":"R90","x":292.125,"y":18},{"s":"R90","x":292,"y":47},{"s":"R90","x":291.875,"y":-15},{"s":"R90","x":291.75,"y":15},{"s":"R90","x":291.625,"y":31},{"s":"R90","x":291.5,"y":-12},{"s":"R90","x":291.375,"y":32},{"s":"R90","x":291.25,"y":69},{"s":"R90","x":291.125,"y":31},{"s":"R90","x":291,"y":22},{"s":"R90","x":290.875,"y":108},{"s":"R90","x":290.75,"y":110},{"s":"R90","x":290.625,"y":103},{"s":"R90","x":290.5,"y":209},{"s":"R90","x":290.375,"y":186},{"s":"R90","x":290.25,"y":248},{"s":"R90","x":290.125,"y":228},{"s":"R90","x":290,"y":325},{"s":"R90","x":289.875,"y":322},{"s":"R90","x":289.75,"y":326},{"s":"R90","x":289.625,"y":406},{"s":"R90","x":289.5,"y":343},{"s":"R90","x":289.375,"y":377},{"s":"R90","x":289.25,"y":315},{"s":"R90","x":289.125,"y":375},{"s":"R90","x":289,"y":317},{"s":"R90","x":288.875,"y":323},{"s":"R90","x":288.75,"y":250},{"s":"R90","x":288.625,"y":302},{"s":"R90","x":288.5,"y":227},{"s":"R90","x":288.375,"y":225},{"s":"R90","x":288.25,"y":243},{"s":"R90","x":288.125,"y":169},{"s":"R90","x":288,"y":215},{"s":"R90","x":287.875,"y":236},{"s":"R90","x":287.75,"y":174},{"s":"R90","x":287.625,"y":201},{"s":"R90","x":287.5,"y":184},{"s":"R90","x":287.375,"y":218},{"s":"R90","x":287.25,"y":156},{"s":"R90","x":287.125,"y":209},{"s":"R90","x":287,"y":238},{"s":"R90","x":286.875,"y":181},{"s":"R90","x":286.75,"y":217},{"s":"R90","x":286.625,"y":249},{"s":"R90","x":286.5,"y":222},{"s":"R90","x":286.375,"y":292},{"s":"R90","x":286.25,"y":354},{"s":"R90","x":286.125,"y":345},{"s":"R90","x":286,"y":364},{"s":"R90","x":285.875,"y":468},{"s":"R90","x":285.75,"y":487},{"s":"R90","x":285.625,"y":475},{"s":"R90","x":285.5,"y":574},{"s":"R90","x":285.375,"y":518},{"s":"R90","x":285.25,"y":542},{"s":"R90","x":285.125,"y":461},{"s":"R90","x":285,"y":496},{"s":"R90","x":284.875,"y":422},{"s":"R90","x":284.75,"y":355},{"s":"R90","x":284.625,"y":369},{"s":"R90","x":284.5,"y":244},{"s":"R90","x":284.375,"y":232},{"s":"R90","x":284.25,"y":128},{"s":"R90","x":284.125,"y":167},{"s":"R90","x":284,"y":91},{"s":"R90","x":283.875,"y":95},{"s":"R90","x":283.75,"y":19},{"s":"R90","x":283.625,"y":77},{"s":"R90","x":283.5,"y":7},{"s":"R90","x":283.375,"y":12},{"s":"R90","x":283.25,"y":38},{"s":"R90","x":283.125,"y":-34},{"s":"R90","x":283,"y":15}
],
"labs": [
{"s":"L210","x":291.85,"y":9234,"txt":"210 °C"},
{"s":"L165","x":291.85,"y":6334,"txt":"165 °C"},
{"s":"L120","x":291.85,"y":3810,"txt":"120 °C"},
{"s":"L90","x":291.85,"y":1199,"txt":"90 °C"}
]
},
"spacing": 0,
"bounds": "flush",
"hconcat": [
{
  "width": 490, "height": 730,
  "title": {"text": "Not optimized process", "dx": -6, "fontSize": 31, "fontWeight": "normal", "color": "#000", "offset": -14, "font": "Liberation Sans"},
  "resolve": {"axis": {"x": "independent", "y": "independent"}},
  "layer": [
    {
      "data": {"name": "pts"},
      "transform": [{"filter": {"field": "s", "oneOf": ["L210","L165","L120","L90"]}}],
      "mark": {"type": "point", "filled": false, "size": 90, "strokeWidth": 1, "opacity": 0.55, "clip": true},
      "encoding": {
        "x": {"field": "x", "type": "quantitative", "scale": {"domain": [283, 292], "reverse": true, "nice": false, "zero": false},
              "axis": {"orient": "bottom", "values": [292, 288, 284], "tickSize": -14, "labelPadding": 28, "labelOffset": 5, "title": "Binding energy (eV)", "titleFontSize": 32, "titleX": 528, "titleY": 68, "titleBaseline": "alphabetic"}},
        "y": {"field": "y", "type": "quantitative", "scale": {"domain": [-530, 10000], "nice": false, "zero": false},
              "axis": {"orient": "left", "values": [0, 2000, 4000, 6000, 8000, 10000], "format": "d", "tickSize": -14, "labelPadding": 30, "title": "Count/s", "titleFontSize": 30, "titleX": -93, "titleY": 301, "titleBaseline": "alphabetic"}},
        "color": {"field": "s", "type": "nominal", "scale": {"domain": ["L210","L165","L120","L90","R210","R165","R120","R90"], "range": ["#0000ff","#008000","#ff0000","#000000","#0000ff","#008000","#ff0000","#000000"]}, "legend": null}
      }
    },
    {
      "data": {"name": "lines"},
      "transform": [{"filter": {"field": "s", "oneOf": ["L210","L165","L120","L90"]}}, {"fold": ["a","b","c"], "as": ["k","v"]}],
      "mark": {"type": "line", "strokeWidth": 4.5, "interpolate": "monotone", "clip": true},
      "encoding": {
        "x": {"field": "x", "type": "quantitative", "scale": {"domain": [283, 292], "reverse": true, "nice": false, "zero": false},
              "axis": {"orient": "top", "values": [292, 288, 284], "labels": false, "tickSize": -14, "title": null}},
        "y": {"field": "v", "type": "quantitative", "scale": {"domain": [-530, 10000], "nice": false, "zero": false},
              "axis": {"orient": "right", "values": [0, 2000, 4000, 6000, 8000, 10000], "labels": false, "tickSize": -14, "title": null, "domain": false}},
        "color": {"field": "s", "type": "nominal", "scale": {"domain": ["L210","L165","L120","L90","R210","R165","R120","R90"], "range": ["#0000ff","#008000","#ff0000","#000000","#0000ff","#008000","#ff0000","#000000"]}, "legend": null},
        "detail": {"field": "k"}
      }
    },
    {
      "data": {"name": "lines"},
      "transform": [{"filter": {"field": "s", "oneOf": ["L210","L165","L120","L90"]}}],
      "mark": {"type": "line", "strokeWidth": 4.5, "interpolate": "monotone", "clip": true},
      "encoding": {
        "x": {"field": "x", "type": "quantitative", "scale": {"domain": [283, 292], "reverse": true, "nice": false, "zero": false},
              "axis": {"orient": "bottom", "values": [290, 286], "labels": false, "tickSize": -7, "title": null, "domain": false}},
        "y": {"field": "e", "type": "quantitative", "scale": {"domain": [-530, 10000], "nice": false, "zero": false},
              "axis": {"orient": "left", "values": [1000, 3000, 5000, 7000, 9000], "labels": false, "tickSize": -7, "title": null, "domain": false}},
        "color": {"field": "s", "type": "nominal", "scale": {"domain": ["L210","L165","L120","L90","R210","R165","R120","R90"], "range": ["#0000ff","#008000","#ff0000","#000000","#0000ff","#008000","#ff0000","#000000"]}, "legend": null}
      }
    },
    {
      "data": {"name": "labs"},
      "mark": {"type": "text", "fontSize": 36, "align": "left", "baseline": "alphabetic"},
      "encoding": {
        "x": {"field": "x", "type": "quantitative", "scale": {"domain": [283, 292], "reverse": true, "nice": false, "zero": false},
              "axis": {"orient": "top", "values": [290, 286], "labels": false, "tickSize": -7, "title": null, "domain": false}},
        "y": {"field": "y", "type": "quantitative", "scale": {"domain": [-530, 10000], "nice": false, "zero": false},
              "axis": {"orient": "right", "values": [1000, 3000, 5000, 7000, 9000], "labels": false, "tickSize": -7, "title": null, "domain": false}},
        "text": {"field": "txt"},
        "color": {"field": "s", "type": "nominal", "scale": {"domain": ["L210","L165","L120","L90","R210","R165","R120","R90"], "range": ["#0000ff","#008000","#ff0000","#000000","#0000ff","#008000","#ff0000","#000000"]}, "legend": null}
      }
    },
    {
      "data": {"values": [{"x": 283.31, "y": 9450, "txt": "a)"}]},
      "mark": {"type": "text", "fontSize": 34, "fontWeight": "bold", "align": "right", "baseline": "alphabetic", "color": "#000"},
      "encoding": {
        "x": {"field": "x", "type": "quantitative", "scale": {"domain": [283, 292], "reverse": true, "nice": false, "zero": false}, "axis": null},
        "y": {"field": "y", "type": "quantitative", "scale": {"domain": [-530, 10000], "nice": false, "zero": false}, "axis": null},
        "text": {"field": "txt"}
      }
    }
  ]
},
{
  "width": 478, "height": 730,
  "title": {"text": "Optimized process", "dx": 20, "fontSize": 31, "fontWeight": "normal", "color": "#000", "offset": -1, "font": "Liberation Sans"},
  "resolve": {"axis": {"x": "independent", "y": "independent"}},
  "layer": [
    {
      "data": {"name": "pts"},
      "transform": [{"filter": {"field": "s", "oneOf": ["R210","R165","R120","R90"]}}],
      "mark": {"type": "point", "filled": false, "size": 90, "strokeWidth": 1, "opacity": 0.55, "clip": true},
      "encoding": {
        "x": {"field": "x", "type": "quantitative", "scale": {"domain": [283.22, 292.2], "reverse": true, "nice": false, "zero": false},
              "axis": {"orient": "bottom", "values": [292, 288, 284], "tickSize": -14, "labelPadding": 28, "labelOffset": 5, "title": null}},
        "y": {"field": "y", "type": "quantitative", "scale": {"domain": [-530, 10000], "nice": false, "zero": false},
              "axis": {"orient": "left", "values": [0, 2000, 4000, 6000, 8000, 10000], "labels": false, "tickSize": -14, "title": null}},
        "color": {"field": "s", "type": "nominal", "scale": {"domain": ["L210","L165","L120","L90","R210","R165","R120","R90"], "range": ["#0000ff","#008000","#ff0000","#000000","#0000ff","#008000","#ff0000","#000000"]}, "legend": null}
      }
    },
    {
      "data": {"name": "lines"},
      "transform": [{"filter": {"field": "s", "oneOf": ["R210","R165","R120","R90"]}}, {"fold": ["a","b","c"], "as": ["k","v"]}],
      "mark": {"type": "line", "strokeWidth": 4.5, "interpolate": "monotone", "clip": true},
      "encoding": {
        "x": {"field": "x", "type": "quantitative", "scale": {"domain": [283.22, 292.2], "reverse": true, "nice": false, "zero": false},
              "axis": {"orient": "top", "values": [292, 288, 284], "labels": false, "tickSize": -14, "title": null}},
        "y": {"field": "v", "type": "quantitative", "scale": {"domain": [-530, 10000], "nice": false, "zero": false},
              "axis": {"orient": "left", "values": [1000, 3000, 5000, 7000, 9000], "labels": false, "tickSize": -7, "title": null, "domain": false}},
        "color": {"field": "s", "type": "nominal", "scale": {"domain": ["L210","L165","L120","L90","R210","R165","R120","R90"], "range": ["#0000ff","#008000","#ff0000","#000000","#0000ff","#008000","#ff0000","#000000"]}, "legend": null},
        "detail": {"field": "k"}
      }
    },
    {
      "data": {"name": "lines"},
      "transform": [{"filter": {"field": "s", "oneOf": ["R210","R165","R120","R90"]}}],
      "mark": {"type": "line", "strokeWidth": 4.5, "interpolate": "monotone", "clip": true},
      "encoding": {
        "x": {"field": "x", "type": "quantitative", "scale": {"domain": [283.22, 292.2], "reverse": true, "nice": false, "zero": false},
              "axis": {"orient": "bottom", "values": [290, 286], "labels": false, "tickSize": -7, "title": null, "domain": false}},
        "y": {"field": "e", "type": "quantitative", "scale": {"domain": [-530, 10000], "nice": false, "zero": false}, "axis": null},
        "color": {"field": "s", "type": "nominal", "scale": {"domain": ["L210","L165","L120","L90","R210","R165","R120","R90"], "range": ["#0000ff","#008000","#ff0000","#000000","#0000ff","#008000","#ff0000","#000000"]}, "legend": null}
      }
    },
    {
      "data": {"values": [{"x": 283.85, "y": 9480, "txt": "b)"}]},
      "mark": {"type": "text", "fontSize": 34, "fontWeight": "bold", "align": "left", "baseline": "alphabetic", "color": "#000", "clip": true},
      "encoding": {
        "x": {"field": "x", "type": "quantitative", "scale": {"domain": [283.22, 292.2], "reverse": true, "nice": false, "zero": false},
              "axis": {"orient": "top", "values": [290, 286], "labels": false, "tickSize": -7, "title": null, "domain": false}},
        "y": {"field": "y", "type": "quantitative", "scale": {"domain": [-530, 10000], "nice": false, "zero": false}, "axis": null},
        "text": {"field": "txt"}
      }
    }
  ]
}
]
}
